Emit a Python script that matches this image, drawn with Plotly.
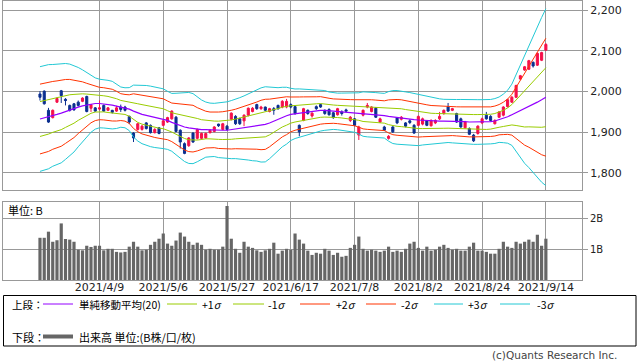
import plotly.graph_objects as go
import pandas as pd

# ---------------- data ----------------
holidays = ["2021-04-29", "2021-05-03", "2021-05-04", "2021-05-05",
            "2021-07-22", "2021-07-23", "2021-08-09"]
dates = [d for d in pd.bdate_range("2021-03-22", "2021-09-14").strftime("%Y-%m-%d")
         if d not in holidays]

opens = [1994, 2001, 1954, 1936, 1974, 2002, 1981, 1966, 1970, 1974,
         1976, 1988, 1959, 1960, 1957, 1966, 1954, 1954, 1952, 1962,
         1962, 1939, 1898, 1907, 1907, 1923, 1917, 1899, 1911, 1917,
         1925, 1933, 1937, 1905, 1872, 1867, 1898, 1885, 1885, 1886,
         1899, 1902, 1920, 1907, 1915, 1932, 1939, 1933, 1928, 1942,
         1951, 1968, 1958, 1962, 1951, 1958, 1966, 1962, 1962, 1968,
         1963, 1917, 1929, 1954, 1940, 1963, 1968, 1954, 1956, 1948,
         1943, 1950, 1955, 1929, 1933, 1893, 1942, 1962, 1951, 1959,
         1925, 1913, 1885, 1913, 1935, 1932, 1923, 1928, 1917, 1917,
         1920, 1928, 1916, 1923, 1933, 1946, 1963, 1954, 1946, 1933,
         1911, 1909, 1893, 1897, 1923, 1942, 1939, 1921, 1937, 1942,
         1963, 1974, 1986, 2031, 2053, 2055, 2072, 2065, 2077, 2102]
highs = [2001, 2003, 1960, 1956, 1986, 2004, 1984, 1968, 1972, 1978,
         1986, 1990, 1969, 1962, 1978, 1968, 1962, 1955, 1965, 1968,
         1965, 1941, 1900, 1923, 1918, 1925, 1919, 1910, 1913, 1930,
         1938, 1954, 1940, 1907, 1875, 1888, 1900, 1909, 1899, 1899,
         1907, 1915, 1921, 1923, 1918, 1949, 1942, 1936, 1944, 1961,
         1962, 1970, 1965, 1963, 1960, 1962, 1968, 1979, 1982, 1971,
         1966, 1919, 1960, 1956, 1949, 1966, 1970, 1956, 1959, 1950,
         1960, 1954, 1958, 1940, 1935, 1916, 1956, 1972, 1964, 1962,
         1936, 1916, 1893, 1915, 1937, 1940, 1925, 1932, 1920, 1941,
         1936, 1930, 1932, 1932, 1950, 1956, 1972, 1960, 1948, 1936,
         1928, 1912, 1896, 1917, 1936, 1950, 1942, 1932, 1952, 1964,
         1982, 1989, 2017, 2041, 2063, 2078, 2074, 2096, 2098, 2119]
lows = [1978, 1968, 1923, 1934, 1972, 1972, 1966, 1951, 1953, 1963,
        1974, 1949, 1950, 1950, 1954, 1950, 1952, 1946, 1950, 1950,
        1951, 1920, 1876, 1904, 1904, 1907, 1897, 1897, 1895, 1915,
        1923, 1931, 1900, 1860, 1846, 1864, 1874, 1882, 1882, 1884,
        1897, 1900, 1913, 1905, 1904, 1929, 1918, 1918, 1915, 1939,
        1949, 1955, 1955, 1952, 1949, 1943, 1955, 1959, 1959, 1959,
        1943, 1890, 1927, 1943, 1936, 1955, 1960, 1943, 1941, 1933,
        1941, 1941, 1949, 1925, 1915, 1881, 1939, 1959, 1949, 1935,
        1923, 1903, 1882, 1898, 1920, 1929, 1912, 1920, 1896, 1915,
        1917, 1915, 1914, 1920, 1930, 1943, 1950, 1952, 1923, 1911,
        1909, 1893, 1876, 1894, 1920, 1931, 1927, 1919, 1935, 1939,
        1961, 1972, 1984, 2029, 2051, 2053, 2059, 2063, 2075, 2100]
closes = [1986, 1970, 1925, 1954, 1983, 1990, 1978, 1954, 1955, 1966,
          1984, 1951, 1968, 1952, 1960, 1952, 1960, 1949, 1960, 1956,
          1954, 1925, 1886, 1921, 1915, 1909, 1899, 1907, 1897, 1928,
          1936, 1952, 1902, 1876, 1848, 1886, 1876, 1907, 1897, 1897,
          1905, 1913, 1916, 1921, 1907, 1947, 1921, 1921, 1942, 1959,
          1959, 1958, 1962, 1954, 1958, 1954, 1958, 1976, 1976, 1962,
          1946, 1901, 1958, 1946, 1947, 1958, 1962, 1946, 1943, 1936,
          1958, 1946, 1952, 1937, 1917, 1913, 1954, 1966, 1962, 1937,
          1933, 1905, 1890, 1901, 1923, 1937, 1915, 1924, 1898, 1939,
          1933, 1917, 1929, 1929, 1939, 1954, 1952, 1958, 1925, 1913,
          1925, 1895, 1879, 1915, 1933, 1933, 1929, 1929, 1950, 1962,
          1980, 1986, 2015, 2039, 2061, 2076, 2063, 2094, 2096, 2116]

sma20 = [1932.5, 1935.0, 1938.2, 1941.5, 1943.9, 1947.2, 1951.2, 1954.5, 1957.7, 1961.8,
         1965.0, 1967.5, 1969.9, 1970.7, 1970.7, 1969.9, 1968.3, 1966.7, 1964.2, 1961.8,
         1960.2, 1956.9, 1952.0, 1947.2, 1943.9, 1941.5, 1939.0, 1936.6, 1935.0, 1933.3,
         1929.3, 1924.4, 1920.3, 1916.3, 1913.0, 1910.6, 1908.9, 1907.3, 1906.5, 1906.5,
         1905.7, 1905.7, 1904.9, 1904.9, 1904.9, 1906.5, 1908.1, 1909.8, 1911.4, 1913.0,
         1914.6, 1916.3, 1917.9, 1919.5, 1922.8, 1927.6, 1932.5, 1937.4, 1940.7, 1943.9,
         1945.5, 1947.2, 1948.8, 1950.4, 1952.0, 1952.8, 1953.7, 1953.7, 1952.8, 1952.0,
         1951.2, 1950.4, 1949.6, 1948.8, 1948.0, 1946.3, 1944.7, 1943.9, 1943.1, 1942.3,
         1941.5, 1940.7, 1939.0, 1937.4, 1936.6, 1935.8, 1934.1, 1932.5, 1930.9, 1930.1,
         1929.3, 1928.5, 1927.6, 1927.6, 1927.6, 1927.6, 1927.6, 1927.6, 1926.8, 1926.0,
         1926.0, 1925.2, 1925.2, 1925.2, 1925.2, 1925.2, 1926.0, 1927.6, 1930.9, 1934.1,
         1938.2, 1943.1, 1948.0, 1952.8, 1957.7, 1963.4, 1968.3, 1974.0, 1979.7, 1986.2]
sigma = [42.9, 42.8, 42.7, 41.7, 41.2, 40.8, 39.3, 37.7, 35.4, 32.5,
         29.5, 26.4, 23.3, 21.0, 19.9, 19.8, 19.8, 19.5, 18.3, 16.5,
         16.4, 17.6, 21.3, 22.9, 24.0, 24.5, 24.8, 24.7, 24.9, 24.5,
         23.8, 23.7, 25.2, 26.8, 28.3, 29.1, 28.7, 26.6, 24.3, 22.6,
         22.0, 21.8, 22.4, 22.8, 23.3, 23.8, 24.3, 25.1, 26.0, 27.1,
         28.2, 29.0, 30.4, 30.8, 29.3, 27.5, 25.7, 24.4, 23.3, 21.4,
         20.3, 19.8, 19.1, 18.6, 17.9, 17.2, 16.9, 16.3, 15.4, 15.0,
         15.0, 15.3, 15.7, 15.7, 16.0, 16.9, 18.2, 18.4, 18.4, 18.4,
         18.3, 18.3, 20.3, 21.7, 22.0, 22.0, 21.7, 21.7, 21.5, 21.0,
         20.2, 19.5, 19.1, 18.7, 18.2, 17.8, 17.6, 17.9, 17.9, 18.2,
         18.3, 18.3, 18.3, 18.3, 18.3, 18.3, 18.2, 18.4, 18.6, 19.9,
         21.7, 25.1, 31.4, 38.2, 44.7, 50.1, 55.6, 61.6, 67.5, 72.5]

volume_b = [1.38, 1.38, 1.58, 1.25, 1.30, 1.85, 1.34, 1.32, 1.25, 0.99,
            0.97, 1.12, 1.08, 1.12, 1.12, 0.97, 1.02, 1.02, 0.92, 0.90,
            0.92, 1.09, 1.25, 1.09, 0.97, 0.99, 1.15, 1.25, 1.35, 1.52,
            1.19, 1.12, 1.29, 1.55, 1.42, 1.25, 1.15, 1.22, 1.15, 0.99,
            1.02, 0.99, 0.99, 1.09, 2.42, 1.35, 1.02, 0.89, 1.25, 1.09,
            1.05, 0.97, 0.92, 0.97, 1.02, 1.22, 0.86, 0.96, 1.02, 0.99,
            1.52, 1.32, 1.19, 0.96, 0.82, 0.89, 0.86, 1.02, 0.96, 0.82,
            0.89, 0.76, 0.79, 1.05, 1.15, 1.42, 1.02, 0.96, 0.99, 0.96,
            0.92, 0.96, 1.09, 0.92, 0.96, 0.92, 1.02, 1.19, 1.25, 1.05,
            0.96, 1.09, 0.96, 0.99, 1.09, 1.15, 1.05, 0.99, 1.02, 0.96,
            0.96, 1.09, 1.22, 0.96, 0.96, 0.92, 0.86, 0.86, 1.02, 1.25,
            1.09, 1.05, 1.25, 1.19, 1.25, 1.32, 1.25, 1.48, 1.12, 1.35]

tick_dates = ["2021-04-09", "2021-05-06", "2021-05-27", "2021-06-17",
              "2021-07-08", "2021-08-02", "2021-08-24", "2021-09-14"]
tick_text = ["2021/4/9", "2021/5/6", "2021/5/27", "2021/6/17",
             "2021/7/8", "2021/8/2", "2021/8/24", "2021/9/14"]
price_ticks = [1800, 1900, 2000, 2100, 2200]
vol_ticks = [1, 2]
vol_tick_text = ["1B", "2B"]

# ---------------- styling ----------------
W, H = 638, 362
def px(x): return x / W
def py(y): return 1 - y / H

C_SMA = "#9400ff"
C_1 = "#99cc00"
C_2 = "#ff3300"
C_3 = "#22c8d4"
C_UP = "#f5104a"
C_DN = "#0b2f8f"
GRID = "#999999"
TXT = "#222222"
JP = "Noto Sans CJK JP"
LAT = "DejaVu Sans"

fig = go.Figure()

bands = [(3, C_3), (-3, C_3), (2, C_2), (-2, C_2), (1, C_1), (-1, C_1)]
for k, col in bands:
    fig.add_trace(go.Scatter(
        x=dates, y=[m + k * s for m, s in zip(sma20, sigma)],
        mode="lines", line=dict(color=col, width=1),
        hoverinfo="skip", showlegend=False, xaxis="x", yaxis="y"))
fig.add_trace(go.Scatter(x=dates, y=sma20, mode="lines",
                         line=dict(color=C_SMA, width=1.2),
                         hoverinfo="skip", showlegend=False, xaxis="x", yaxis="y"))

fig.add_trace(go.Candlestick(
    x=dates, open=opens, high=highs, low=lows, close=closes,
    increasing=dict(line=dict(color=C_UP, width=1), fillcolor=C_UP),
    decreasing=dict(line=dict(color=C_DN, width=1), fillcolor=C_DN),
    whiskerwidth=0, showlegend=False, xaxis="x", yaxis="y"))

fig.add_trace(go.Bar(x=dates, y=volume_b, marker=dict(color="#666666", line=dict(width=0)),
                     showlegend=False, xaxis="x2", yaxis="y2"))

xr = [-8.7, 127.5]
xdom = [px(3), px(582)]
common_x = dict(type="category", range=xr, tickvals=tick_dates, showgrid=True,
                gridcolor=GRID, gridwidth=1, showline=True, mirror=True,
                linecolor=GRID, linewidth=1, ticks="", zeroline=False,
                fixedrange=True)

fig.update_layout(
    width=W, height=H, autosize=False,
    margin=dict(l=0, r=0, t=0, b=0),
    paper_bgcolor="white", plot_bgcolor="white",
    showlegend=False, bargap=0.25,
    xaxis=dict(domain=xdom, anchor="y", showticklabels=False,
               rangeslider=dict(visible=False), **common_x),
    xaxis2=dict(domain=xdom, anchor="y2", showticklabels=True, ticktext=tick_text,
                ticklabelstandoff=-3,
                tickfont=dict(family=LAT, size=11, color=TXT), **common_x),
    yaxis=dict(domain=[py(190), py(0.5)], anchor="x", side="right",
               range=[1758, 2224], tickvals=price_ticks, tickformat=",d",
               ticks="outside", ticklen=5, tickcolor=GRID,
               showgrid=True, gridcolor=GRID, showline=True, mirror=True,
               linecolor=GRID, zeroline=False,
               tickfont=dict(family=LAT, size=11, color=TXT)),
    yaxis2=dict(domain=[py(280), py(202)], anchor="x2", side="right",
                range=[0, 2.55], tickvals=vol_ticks, ticktext=vol_tick_text,
                ticks="outside", ticklen=5, tickcolor=GRID,
                showgrid=True, gridcolor=GRID, showline=True, mirror=True,
                linecolor=GRID, zeroline=False,
                tickfont=dict(family=LAT, size=10, color=TXT)),
)

ann = []
shapes = []
def text(x, y, s, size=11, anchor="left", color="#000", family=JP):
    ann.append(dict(x=px(x), y=py(y), xref="paper", yref="paper", text=s,
                    showarrow=False, xanchor=anchor, yanchor="middle", borderpad=0,
                    font=dict(family=family, size=size, color=color)))
def hline(x0, x1, y, color, width=1):
    shapes.append(dict(type="line", xref="paper", yref="paper",
                       x0=px(x0), x1=px(x1), y0=py(y), y1=py(y),
                       line=dict(color=color, width=width)))

text(7, 210, "単位: B")

# legend box
shapes.append(dict(type="rect", xref="paper", yref="paper",
                   x0=px(3.5), x1=px(636), y0=py(346), y1=py(295.5),
                   line=dict(color="#000", width=1)))
r1, r2 = 304, 336.5
text(11, r1, "上段：", size=10.5)
hline(43, 73, r1, C_SMA)
text(78, r1, "単純移動平均(20)", size=10.5)
legend_items = [(167, 197, C_1, "+1<i>σ</i>", 201), (233, 264, C_1, "-1<i>σ</i>", 267),
                (300, 330, C_2, "+2<i>σ</i>", 335), (366, 396, C_2, "-2<i>σ</i>", 400),
                (434, 463, C_3, "+3<i>σ</i>", 467), (500, 530, C_3, "-3<i>σ</i>", 536)]
for x0, x1, col, lab, tx in legend_items:
    hline(x0, x1, r1, col)
    text(tx, r1, lab, size=10.5)
text(11, r2, "下段：")
hline(43, 73, r2, "#666666", 4)
text(78, r2, "出来高 単位:(B株/口/枚)")
text(618, 355, "(c)Quants Research Inc.", size=10.5, anchor="right", color="#444", family=LAT)

fig.update_layout(annotations=ann, shapes=shapes)
fig.write_html("out.html", config={"displayModeBar": False},
               post_script="document.body.style.margin='0';document.body.style.padding='0';")
